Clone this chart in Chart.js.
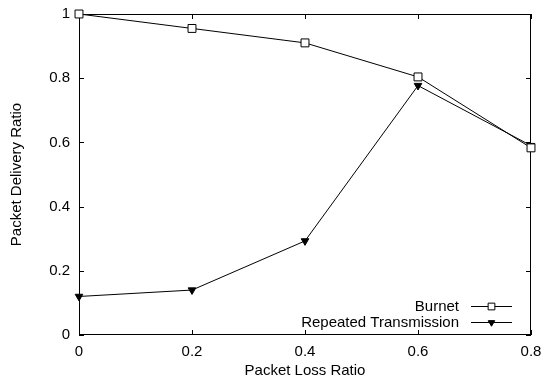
<!DOCTYPE html>
<html>
<head>
<meta charset="utf-8">
<script src="https://cdn.jsdelivr.net/npm/chart.js@4"></script>
<style>
  body { margin: 0; background: #fff; }
  #wrap { width: 542px; height: 380px; }
</style>
</head>
<body>
<div id="wrap"><canvas id="pdrChart"></canvas></div>
<script>
const lossRatio = [0, 0.2, 0.4, 0.6, 0.8];
const burnetPdr = [1.0, 0.955, 0.91, 0.804, 0.583];
const repeatedPdr = [0.12, 0.14, 0.293, 0.777, 0.59];
const xTicks = [0, 0.2, 0.4, 0.6, 0.8];
const yTicks = [0, 0.2, 0.4, 0.6, 0.8, 1];
const seriesNames = ['Burnet', 'Repeated Transmission'];
const xTitle = 'Packet Loss Ratio';
const yTitle = 'Packet Delivery Ratio';

const FONT = "'Liberation Sans', Arial, Helvetica, sans-serif";
const FSIZE = 15;

function toPoints(xs, ys) {
    return xs.map((x, i) => ({ x: x, y: ys[i] }));
}

// gnuplot-like box with inward ticks on all four sides, legend in the lower right
const gnuplotFrame = {
    id: 'gnuplotFrame',
    beforeDatasetsDraw(chart) {
        const { ctx, chartArea: a, scales: { x, y } } = chart;
        const tick = 5;
        ctx.save();
        ctx.strokeStyle = '#000';
        ctx.lineWidth = 1;
        ctx.strokeRect(a.left + 0.5, a.top + 0.5, a.right - a.left - 1, a.bottom - a.top - 1);
        ctx.beginPath();
        xTicks.forEach(v => {
            const px = Math.round(x.getPixelForValue(v)) + 0.5;
            ctx.moveTo(px, a.bottom); ctx.lineTo(px, a.bottom - tick);
            ctx.moveTo(px, a.top); ctx.lineTo(px, a.top + tick);
        });
        yTicks.forEach(v => {
            const py = Math.round(y.getPixelForValue(v)) + 0.5;
            ctx.moveTo(a.left, py); ctx.lineTo(a.left + tick, py);
            ctx.moveTo(a.right, py); ctx.lineTo(a.right - tick, py);
        });
        ctx.stroke();
        ctx.restore();
    },
    afterDatasetsDraw(chart) {
        const { ctx, chartArea: a } = chart;
        const textRight = a.right - 72;
        const lineL = a.right - 60, lineR = a.right - 19;
        ctx.save();
        ctx.font = FSIZE + 'px ' + FONT;
        ctx.textAlign = 'right';
        ctx.textBaseline = 'middle';
        chart.data.datasets.forEach((ds, i) => {
            const yy = Math.round(a.bottom - 29 + i * 15.5) + 0.5;
            ctx.fillStyle = '#000';
            ctx.fillText(ds.label, textRight, yy);
            ctx.strokeStyle = '#000';
            ctx.lineWidth = 1;
            ctx.beginPath();
            ctx.moveTo(lineL, yy);
            ctx.lineTo(lineR, yy);
            ctx.stroke();
            ctx.fillStyle = ds.pointBackgroundColor;
            Chart.helpers.drawPoint(ctx, {
                pointStyle: ds.pointStyle,
                rotation: ds.pointRotation || 0,
                radius: ds.pointRadius * 0.85,
                borderWidth: 1
            }, (lineL + lineR) / 2, yy);
        });
        ctx.restore();
    }
};

new Chart(document.getElementById('pdrChart').getContext('2d'), {
    type: 'line',
    data: {
        datasets: [{
            label: seriesNames[0],
            data: toPoints(lossRatio, burnetPdr),
            borderColor: '#000',
            borderWidth: 1,
            pointStyle: 'rect',
            pointRadius: 5.6,
            pointBorderWidth: 1,
            pointBorderColor: '#000',
            pointBackgroundColor: '#fff',
            tension: 0,
            clip: false
        }, {
            label: seriesNames[1],
            data: toPoints(lossRatio, repeatedPdr),
            borderColor: '#000',
            borderWidth: 1,
            pointStyle: 'triangle',
            pointRotation: 180,
            pointRadius: 4.4,
            pointBorderWidth: 1,
            pointBorderColor: '#000',
            pointBackgroundColor: '#000',
            tension: 0,
            clip: false
        }]
    },
    options: {
        responsive: true,
        maintainAspectRatio: false,
        animation: false,
        layout: { padding: { top: 14, right: 11, left: 0, bottom: 0 } },
        plugins: {
            legend: { display: false },
            tooltip: { enabled: false }
        },
        scales: {
            x: {
                type: 'linear',
                min: 0,
                max: 0.8,
                afterBuildTicks: s => { s.ticks = xTicks.map(v => ({ value: v })); },
                afterFit: s => {
                    s.height = 45;
                    s.paddingLeft = 0; s.paddingRight = 0;
                },
                grid: { display: false, drawTicks: false },
                border: { display: false },
                ticks: {
                    padding: 8,
                    maxRotation: 0,
                    color: '#000',
                    font: { family: FONT, size: FSIZE },
                    callback: v => String(v)
                },
                title: {
                    display: true,
                    text: xTitle,
                    color: '#000',
                    font: { family: FONT, size: FSIZE },
                    padding: { top: 0, bottom: 0 }
                }
            },
            y: {
                min: 0,
                max: 1,
                afterBuildTicks: s => { s.ticks = yTicks.map(v => ({ value: v })); },
                afterFit: s => {
                    s.width = 79;
                    s.paddingTop = 0; s.paddingBottom = 0;
                },
                grid: { display: false, drawTicks: false },
                border: { display: false },
                ticks: {
                    padding: 9,
                    color: '#000',
                    font: { family: FONT, size: FSIZE },
                    callback: v => String(v)
                },
                title: {
                    display: true,
                    text: yTitle,
                    color: '#000',
                    font: { family: FONT, size: FSIZE },
                    padding: { top: 8, bottom: 0 }
                }
            }
        }
    },
    plugins: [gnuplotFrame]
});
</script>
</body>
</html>
